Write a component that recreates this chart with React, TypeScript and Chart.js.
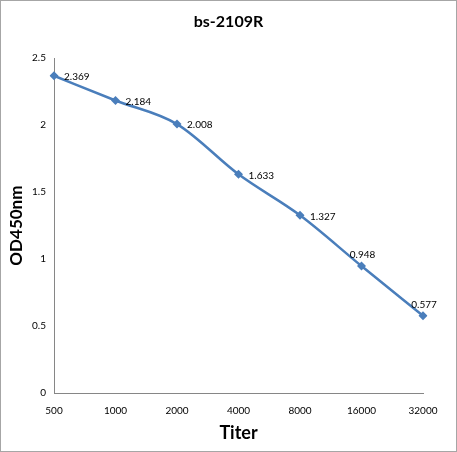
import React, { useEffect, useRef } from 'react';
import Chart from 'chart.js/auto';

const titers = ['500', '1000', '2000', '4000', '8000', '16000', '32000'];
const odValues = [2.369, 2.184, 2.008, 1.633, 1.327, 0.948, 0.577];
// where each value label sits relative to its point
const labelSides = ['right', 'right', 'right', 'right', 'right', 'top', 'top'];

const lineBlue = '#4a7ebb';
const fontFamily = 'Lato, "Open Sans", sans-serif';

const valueLabels = {
  id: 'valueLabels',
  afterDatasetsDraw(chart: any) {
    const ctx = chart.ctx;
    const meta = chart.getDatasetMeta(0);
    ctx.save();
    ctx.font = `10px ${fontFamily}`;
    ctx.fillStyle = '#000';
    meta.data.forEach((pt: any, i: number) => {
      const text = odValues[i].toFixed(3);
      if (labelSides[i] === 'top') {
        ctx.textAlign = 'center';
        ctx.textBaseline = 'bottom';
        ctx.fillText(text, pt.x + 1, pt.y - 6);
      } else {
        ctx.textAlign = 'left';
        ctx.textBaseline = 'middle';
        ctx.fillText(text, pt.x + 10, pt.y + 1);
      }
    });
    ctx.restore();
  },
};

export default function App() {
  const canvasRef = useRef<HTMLCanvasElement>(null);

  useEffect(() => {
    document.body.style.margin = '0';
    if (!canvasRef.current) return;
    const chart = new Chart(canvasRef.current, {
      type: 'line',
      data: {
        labels: titers,
        datasets: [
          {
            data: odValues,
            borderColor: lineBlue,
            backgroundColor: lineBlue,
            borderWidth: 2.5,
            tension: 0.3,
            cubicInterpolationMode: 'monotone',
            pointStyle: 'rectRot',
            pointRadius: 4.5,
            pointBorderWidth: 0,
          },
        ],
      },
      options: {
        animation: false,
        responsive: false,
        layout: { padding: 0 },
        plugins: {
          legend: { display: false },
          tooltip: { enabled: false },
          title: {
            display: true,
            text: 'bs-2109R',
            color: '#000',
            font: { family: fontFamily, size: 16, weight: 'bold' },
            padding: { top: 11, bottom: 27 },
          },
        },
        scales: {
          x: {
            offset: false,
            grid: { display: false, drawTicks: false },
            border: { color: '#868686', width: 1 },
            ticks: {
              color: '#000',
              padding: 12,
              maxRotation: 0,
              font: { family: fontFamily, size: 10 },
            },
            title: {
              display: true,
              text: 'Titer',
              color: '#000',
              font: { family: fontFamily, size: 18, weight: 'bold' },
              padding: { top: 0, bottom: 7 },
            },
            afterFit: (scale: any) => {
              scale.height = 58;
              scale.paddingRight = 33;
            },
          },
          y: {
            min: 0,
            max: 2.5,
            grid: { display: false, drawTicks: false },
            border: { color: '#868686', width: 1 },
            ticks: {
              stepSize: 0.5,
              color: '#000',
              padding: 8,
              font: { family: fontFamily, size: 10 },
              callback: (v: any) => String(Number(v)),
            },
            title: {
              display: true,
              text: 'OD450nm',
              color: '#000',
              font: { family: fontFamily, size: 17, weight: 'bold' },
              padding: { top: 5, bottom: 0 },
            },
            afterFit: (scale: any) => {
              scale.width = 53;
            },
          },
        },
      },
      plugins: [valueLabels],
    });
    return () => chart.destroy();
  }, []);

  return (
    <div
      style={{
        position: 'absolute',
        left: 0,
        top: 0,
        width: 457,
        height: 452,
        boxSizing: 'border-box',
        border: '1px solid #a6a6a6',
        background: '#fff',
      }}
    >
      <canvas ref={canvasRef} width={455} height={450} style={{ display: 'block' }} />
    </div>
  );
}
